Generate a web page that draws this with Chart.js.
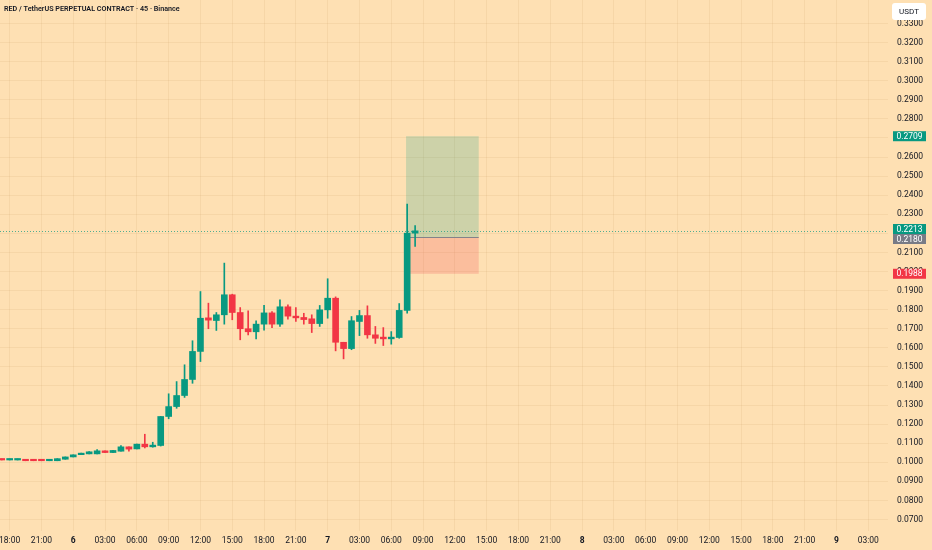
<!DOCTYPE html>
<html>
<head>
<meta charset="utf-8">
<script src="https://cdn.jsdelivr.net/npm/chart.js@4.4.1/dist/chart.umd.min.js"></script>
<style>
  html, body { margin: 0; padding: 0; background: #fee0b3; }
  #wrap { width: 932px; height: 550px; }
</style>
</head>
<body>
<div id="wrap"><canvas id="myChart" width="932" height="550"></canvas></div>
<script>
// 45 min candles, RED/USDT perp
var opens = [
  0.1015, 0.1012, 0.1012, 0.1014, 0.1013, 0.1013, 0.1008, 0.1008, 0.1016, 0.1028,
  0.1040, 0.1044, 0.1044, 0.1060, 0.1051, 0.1058, 0.1081, 0.1070, 0.1095, 0.1081,
  0.1088, 0.1240, 0.1292, 0.1350, 0.1434, 0.1581, 0.1757, 0.1743, 0.1773, 0.1878,
  0.1785, 0.1700, 0.1684, 0.1724, 0.1783, 0.1724, 0.1815, 0.1766, 0.1759, 0.1752,
  0.1727, 0.1799, 0.1860, 0.1629, 0.1596, 0.1738, 0.1769, 0.1668, 0.1656, 0.1647,
  0.1654, 0.1796, 0.2201
];
var closes = [
  0.1012, 0.1013, 0.1014, 0.1008, 0.1008, 0.1008, 0.1013, 0.1019, 0.1028, 0.1039,
  0.1047, 0.1055, 0.1060, 0.1051, 0.1062, 0.1081, 0.1069, 0.1095, 0.1081, 0.1090,
  0.1240, 0.1292, 0.1350, 0.1434, 0.1581, 0.1755, 0.1745, 0.1773, 0.1878, 0.1785,
  0.1700, 0.1684, 0.1724, 0.1783, 0.1724, 0.1815, 0.1766, 0.1757, 0.1748, 0.1727,
  0.1799, 0.1860, 0.1629, 0.1596, 0.1742, 0.1769, 0.1668, 0.1650, 0.1647, 0.1656,
  0.1796, 0.2201, 0.2213
];
var highs = [
  0.1015, 0.1013, 0.1014, 0.1014, 0.1013, 0.1013, 0.1013, 0.1019, 0.1028, 0.1039,
  0.1048, 0.1056, 0.1067, 0.1060, 0.1062, 0.1088, 0.1081, 0.1095, 0.1147, 0.1105,
  0.1240, 0.1359, 0.1423, 0.1511, 0.1637, 0.1895, 0.1834, 0.1785, 0.2044, 0.1881,
  0.1811, 0.1794, 0.1742, 0.1822, 0.1790, 0.1852, 0.1825, 0.1811, 0.1781, 0.1773,
  0.1822, 0.1962, 0.1867, 0.1629, 0.1764, 0.1796, 0.1820, 0.1712, 0.1706, 0.1685,
  0.1832, 0.2353, 0.2241
];
var lows = [
  0.1012, 0.1012, 0.1012, 0.1008, 0.1008, 0.1008, 0.1008, 0.1008, 0.1016, 0.1028,
  0.1040, 0.1044, 0.1044, 0.1051, 0.1051, 0.1058, 0.1058, 0.1070, 0.1075, 0.1079,
  0.1085, 0.1228, 0.1283, 0.1340, 0.1414, 0.1528, 0.1700, 0.1691, 0.1724, 0.1747,
  0.1642, 0.1668, 0.1647, 0.1692, 0.1706, 0.1712, 0.1750, 0.1738, 0.1724, 0.1680,
  0.1712, 0.1755, 0.1584, 0.1542, 0.1590, 0.1664, 0.1650, 0.1623, 0.1612, 0.1619,
  0.1650, 0.1781, 0.2131
];
// one label every 4 bars (3h), first one on bar 1
var tickLabels = [
  "18:00", "21:00", "6", "03:00", "06:00", "09:00", "12:00", "15:00", "18:00", "21:00",
  "7", "03:00", "06:00", "09:00", "12:00", "15:00", "18:00", "21:00",
  "8", "03:00", "06:00", "09:00", "12:00", "15:00", "18:00", "21:00",
  "9", "03:00"
];
var priceTicks = [
  0.07, 0.08, 0.09, 0.10, 0.11, 0.12, 0.13, 0.14, 0.15, 0.16, 0.17, 0.18, 0.19,
  0.20, 0.21, 0.22, 0.23, 0.24, 0.25, 0.26, 0.27, 0.28, 0.29, 0.30, 0.31, 0.32, 0.33
];
var lastPrice = 0.2213;
var takeProfit = 0.2709;
var entry = 0.2180;
var stopLoss = 0.1988;
var positionStart = 50.86;
var positionEnd = 60;

var up = "#089981";
var down = "#f23645";
var bg = "#fee0b3";
var txt = "#131722";

function candleColor(ctx) {
  var i = ctx.dataIndex;
  return closes[i] >= opens[i] ? up : down;
}

var wickData = opens.map(function (o, i) { return { x: i, y: [lows[i], highs[i]] }; });
var bodyData = opens.map(function (o, i) { return { x: i, y: [o, closes[i]] }; });

function noPad(scale) {
  scale.paddingLeft = 0;
  scale.paddingRight = 0;
  scale.paddingTop = 0;
  scale.paddingBottom = 0;
}

var overlay = {
  id: "overlay",
  beforeDraw: function (chart) {
    var c = chart.ctx;
    c.save();
    c.fillStyle = bg;
    c.fillRect(0, 0, chart.width, chart.height);
    c.restore();
  },
  beforeDatasetsDraw: function (chart) {
    var c = chart.ctx, x = chart.scales.x, y = chart.scales.y, a = chart.chartArea;
    var x0 = x.getPixelForValue(positionStart), x1 = x.getPixelForValue(positionEnd);
    var yTp = y.getPixelForValue(takeProfit), yEn = y.getPixelForValue(entry), ySl = y.getPixelForValue(stopLoss);
    c.save();
    c.fillStyle = "rgba(8,153,129,0.2)";
    c.fillRect(x0, yTp, x1 - x0, yEn - yTp);
    c.fillStyle = "rgba(242,54,69,0.2)";
    c.fillRect(x0, yEn, x1 - x0, ySl - yEn);
    c.strokeStyle = "rgba(120,123,134,0.9)";
    c.lineWidth = 1;
    c.beginPath();
    c.moveTo(x0, Math.round(yEn) + 0.5);
    c.lineTo(x1, Math.round(yEn) + 0.5);
    c.stroke();
    // last price dotted line
    var yl = Math.round(y.getPixelForValue(lastPrice)) + 0.5;
    c.strokeStyle = "rgba(8,153,129,0.7)";
    c.setLineDash([1, 2]);
    c.beginPath();
    c.moveTo(a.left, yl);
    c.lineTo(a.right, yl);
    c.stroke();
    c.restore();
  },
  afterDraw: function (chart) {
    var c = chart.ctx, y = chart.scales.y;
    c.save();
    // title
    c.fillStyle = txt;
    c.font = "600 7.2px Roboto";
    c.textBaseline = "middle";
    c.textAlign = "left";
    c.fillText("RED / TetherUS PERPETUAL CONTRACT \u00b7 45 \u00b7 Binance", 4, 9.5);

    // price labels on the axis
    var h = 10;
    var tags = [
      { v: takeProfit, col: up },
      { v: lastPrice, col: up },
      { v: entry, col: "#787b86" },
      { v: stopLoss, col: down }
    ];
    tags.forEach(function (t) { t.y = y.getPixelForValue(t.v); });
    for (var k = 1; k < tags.length; k++) {
      var d = tags[k].y - tags[k - 1].y;
      if (d < h) {
        var mid = (tags[k].y + tags[k - 1].y) / 2;
        tags[k - 1].y = mid - h / 2;
        tags[k].y = mid + h / 2;
      }
    }
    c.font = "8.5px Roboto";
    c.textAlign = "center";
    tags.forEach(function (t) {
      c.fillStyle = t.col;
      c.fillRect(893, t.y - h / 2, 33, h);
      c.fillStyle = "#ffffff";
      c.fillText(t.v.toFixed(4), 909.5, t.y + 0.5);
    });

    // currency button
    c.fillStyle = "#ffffff";
    c.beginPath();
    c.roundRect(892, 3, 34, 17, 3);
    c.fill();
    c.fillStyle = txt;
    c.font = "8px Roboto";
    c.fillText("USDT", 909, 12);
    c.restore();
  }
};

var ctx = document.getElementById("myChart").getContext("2d");
var myChart = new Chart(ctx, {
  type: "bar",
  data: {
    datasets: [
      {
        label: "wick",
        data: wickData,
        backgroundColor: candleColor,
        barThickness: 1,
        grouped: false,
        minBarLength: 1,
      },
      {
        label: "body",
        data: bodyData,
        backgroundColor: candleColor,
        barThickness: 6,
        grouped: false,
        minBarLength: 1.5,
      },
    ],
  },
  options: {
    responsive: false,
    animation: false,
    layout: { padding: 0 },
    plugins: {
      legend: { display: false },
      tooltip: { enabled: false },
    },
    scales: {
      x: {
        type: "linear",
        min: -0.214,
        max: 111.48,
        offset: false,
        border: { display: false },
        grid: { color: "rgba(190,150,90,0.13)", drawTicks: false, offset: false },
        afterBuildTicks: function (scale) {
          scale.ticks = tickLabels.map(function (l, k) { return { value: 1 + 4 * k }; });
        },
        afterFit: function (scale) { scale.height = 19; noPad(scale); },
        ticks: {
          autoSkip: false,
          maxRotation: 0,
          padding: 5,
          color: txt,
          font: function (c) {
            var l = tickLabels[c.index] || "";
            return { family: "Roboto", size: 8.5, weight: l.length < 3 ? "bold" : "normal" };
          },
          callback: function (value, index) { return tickLabels[index]; },
        },
      },
      y: {
        position: "right",
        min: 0.06398,
        max: 0.3423,
        border: { display: false },
        grid: { color: "rgba(190,150,90,0.13)", drawTicks: false },
        afterBuildTicks: function (scale) {
          scale.ticks = priceTicks.map(function (v) { return { value: v }; });
        },
        afterFit: function (scale) { scale.width = 44; noPad(scale); },
        ticks: {
          padding: 9,
          color: txt,
          font: { family: "Roboto", size: 8.5 },
          callback: function (v) { return Number(v).toFixed(4); },
        },
      },
    },
  },
  plugins: [overlay],
});
</script>
</body>
</html>
